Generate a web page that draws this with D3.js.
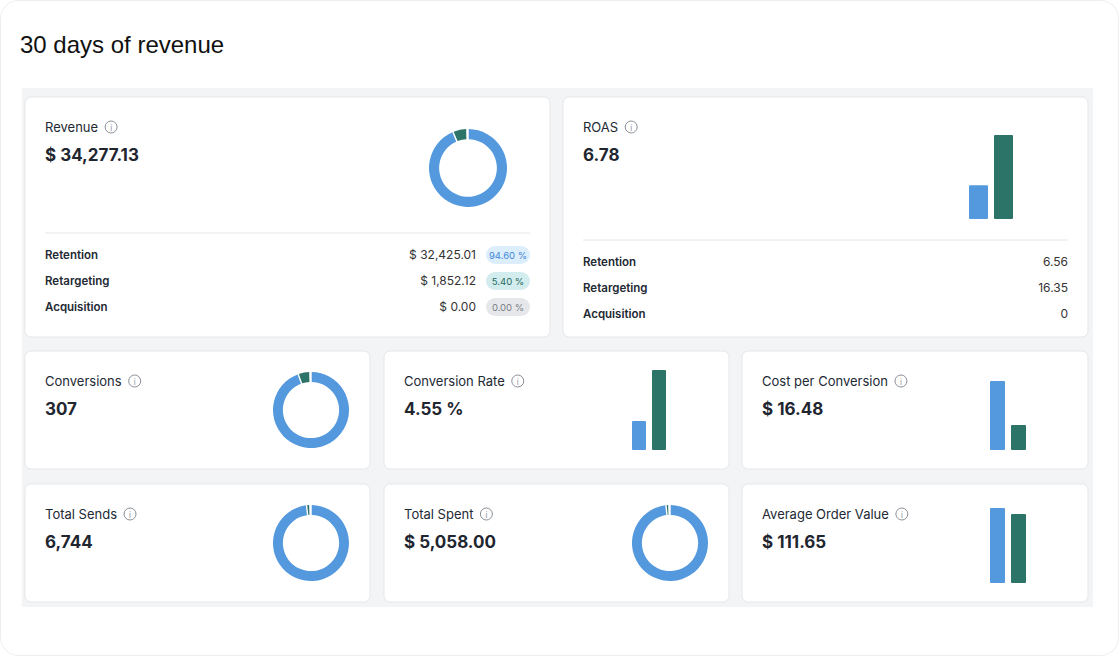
<!DOCTYPE html>
<html><head><meta charset="utf-8">
<script src="https://cdn.jsdelivr.net/npm/d3@7"></script>
<style>
body{margin:0;background:#fff;font-family:Inter,"Noto Sans",sans-serif;}
</style></head>
<body><svg id="c" width="1119" height="656"></svg>
<script>
var segments = ["Retention", "Retargeting", "Acquisition"];
var colors = ["#5499de", "#2c7368", "#d9dadd"];

var revenueValues = [32425.01, 1852.12, 0];
var revenueLabels = ["$ 32,425.01", "$ 1,852.12", "$ 0.00"];
var revenuePct = ["94.60 %", "5.40 %", "0.00 %"];
var roasValues = [6.56, 16.35, 0];
var roasLabels = ["6.56", "16.35", "0"];
var conversionsSplit = [293, 14, 0];
var sendsSplit = [6680, 64, 0];
var spentSplit = [5020, 38, 0];
var convRateBars = [3.9, 10.8];
var cpcBars = [17.6, 6.4];
var aovBars = [113.5, 104.5];

var svg = d3.select("#c");
svg.append("rect").attr("x",0.5).attr("y",0.5).attr("width",1118).attr("height",655).attr("rx",18).attr("fill","#fff").attr("stroke","#eee");
svg.append("text").attr("x",20).attr("y",53).attr("font-size",24).attr("fill","#111").attr("font-family","Liberation Sans, Arial").text("30 days of revenue");
svg.append("rect").attr("x",22).attr("y",88).attr("width",1071).attr("height",519).attr("fill","#f3f4f6");

function card(x,y,w,h,title,value){
  var g = svg.append("g").attr("transform","translate("+x+","+y+")");
  g.append("rect").attr("width",w).attr("height",h).attr("rx",6).attr("fill","#fff")
    .attr("stroke","#e6e7ea");
  g.append("text").attr("x",20).attr("y",35).attr("font-size",13).attr("fill","#222933").text(title);
  var tw = g.select("text").node().getComputedTextLength();
  var ic = g.append("g").attr("transform","translate("+(20+tw+13)+",30)");
  ic.append("circle").attr("r",6).attr("fill","none").attr("stroke","#8a8f98").attr("stroke-width",1);
  ic.append("text").attr("y",3.5).attr("text-anchor","middle").attr("font-size",8).attr("fill","#8a8f98").text("i");
  g.append("text").attr("x",20).attr("y",64).attr("font-size",17).attr("font-weight",700).attr("fill","#1f2630").text(value);
  return g;
}

function donut(g,cx,cy,r,vals){
  var pie = d3.pie().sort(null).padAngle(0.03)(vals);
  var arc = d3.arc().innerRadius(r*0.74).outerRadius(r);
  g.append("g").attr("transform","translate("+cx+","+cy+")").selectAll("path")
    .data(pie.filter(function(d){return d.value>0;})).enter().append("path")
    .attr("d",arc).attr("fill",function(d){return colors[d.index];});
}

function bars(g,x0,bottom,maxH,vals,maxV,bw,gap){
  var y = d3.scaleLinear().domain([0,maxV]).range([0,maxH]);
  var xs = d3.scaleBand().domain(d3.range(vals.length)).range([x0,x0+vals.length*bw+(vals.length-1)*gap]).paddingInner(gap/(bw+gap));
  g.selectAll(null).data(vals).enter().append("rect")
    .attr("x",function(d,i){return xs(i);}).attr("width",xs.bandwidth())
    .attr("y",function(d){return bottom-y(d);}).attr("height",function(d){return y(d);})
    .attr("rx",1).attr("fill",function(d,i){return colors[i];});
}

function rows(g,w,top,labels,right,pct){
  g.append("line").attr("x1",20).attr("x2",w-20).attr("y1",top).attr("y2",top).attr("stroke","#e5e6e8");
  segments.forEach(function(s,i){
    var yy = top+26+i*26;
    g.append("text").attr("x",20).attr("y",yy).attr("font-size",11.5).attr("font-weight",600).attr("fill","#222933").text(s);
    if(pct){
      var bg=["#dceefc","#d3eced","#e6e7ea"][i], fg=["#3f86d6","#246b5f","#7a7e86"][i];
      g.append("rect").attr("x",w-64).attr("y",yy-13).attr("width",44).attr("height",18).attr("rx",9).attr("fill",bg);
      g.append("text").attr("x",w-42).attr("y",yy).attr("text-anchor","middle").attr("font-size",9.5).attr("fill",fg).text(pct[i]);
      g.append("text").attr("x",w-74).attr("y",yy).attr("text-anchor","end").attr("font-size",12).attr("fill","#333").text(labels[i]);
    } else {
      g.append("text").attr("x",w-20).attr("y",yy).attr("text-anchor","end").attr("font-size",12).attr("fill","#333").text(labels[i]);
    }
  });
}

var g1 = card(25,97,525,240,"Revenue","$ 34,277.13");
donut(g1,443,71,39,revenueValues);
rows(g1,525,136,revenueLabels,null,revenuePct);

var g2 = card(563,97,525,240,"ROAS","6.78");
bars(g2,406,122,84,roasValues.slice(0,2),16.35,19,6);
rows(g2,525,143,roasLabels,null,null);

var g3 = card(25,351,345,118,"Conversions","307");
donut(g3,286,59,38,conversionsSplit);
var g4 = card(384,351,345,118,"Conversion Rate","4.55 %");
bars(g4,248,99,80,convRateBars,10.8,14,6);
var g5 = card(742,351,346,118,"Cost per Conversion","$ 16.48");
bars(g5,248,99,80,cpcBars,20.4,15,6);

var g6 = card(25,484,345,118,"Total Sends","6,744");
donut(g6,286,59,38,sendsSplit);
var g7 = card(384,484,345,118,"Total Spent","$ 5,058.00");
donut(g7,286,59,38,spentSplit);
var g8 = card(742,484,346,118,"Average Order Value","$ 111.65");
bars(g8,248,99,80,aovBars,121,15,6);
</script></body></html>
